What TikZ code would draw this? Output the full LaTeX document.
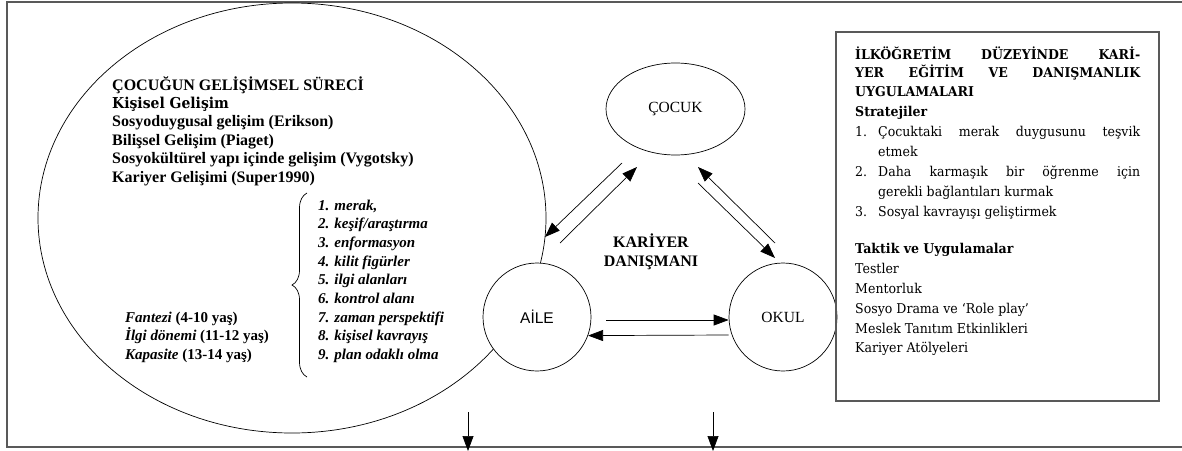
\documentclass[tikz,border=0pt]{standalone}
\usepackage{fontspec}
\setmainfont{Liberation Serif}
\newfontfamily\arialfont{Liberation Sans}
\newfontfamily\bookfont[FakeStretch=0.93]{DejaVu Serif}
\usetikzlibrary{arrows.meta,shapes.geometric,decorations.pathreplacing}

\tikzset{
  thinline/.style={line width=0.7pt},
  pairarrow/.style={thinline, -{Triangle[length=15pt,width=11pt]}},
  actor/.style={draw, thinline, circle, fill=white, minimum size=108pt, inner sep=0pt},
  framestroke/.style={draw=black!65, line width=1.3pt},
  textblock/.style={anchor=base west, inner sep=0pt},
}

\begin{document}
\begin{tikzpicture}[x=1pt,y=-1pt]
  \useasboundingbox (0,0) rectangle (1182,450);

  % Drawing outer frame (open on the right)
  \draw [framestroke] (1182,2) -- (7,2) -- (7,447) -- (1182,447);

  % Drawing development ellipse
  \node [draw, thinline, ellipse, minimum width=508pt, minimum height=430pt, inner sep=0pt] (surec) at (292,218) {};

  % Marking the three actors
  \node [draw, thinline, ellipse, minimum width=139pt, minimum height=92pt, inner sep=0pt,
         font=\fontsize{15.5}{18}\selectfont] (cocuk) at (675.5,109) {ÇOCUK};
  \node [actor, font=\arialfont\fontsize{15.5}{18}\selectfont] (aile) at (537,317) {AİLE};
  \node [actor, font=\fontsize{15.5}{18}\selectfont] (okul) at (783,317) {OKUL};

  % Marking centre label
  \node [align=center, font=\bfseries\fontsize{16}{19}\selectfont] (danisman) at (651,252) {KARİYER\\DANIŞMANI};

  % Drawing arrows cocuk <-> aile
  \coordinate (ca tail) at (622,163);
  \coordinate (ca tip) at (545,237);
  \coordinate (ac tail) at (560,243);
  \coordinate (ac tip) at (637,167);
  \draw [pairarrow] (ca tail) -- (ca tip);
  \draw [pairarrow] (ac tail) -- (ac tip);

  % Drawing arrows cocuk <-> okul
  \coordinate (co tail) at (698,183);
  \coordinate (co tip) at (775,258);
  \coordinate (oc tail) at (775,243);
  \coordinate (oc tip) at (698,167);
  \draw [pairarrow] (co tail) -- (co tip);
  \draw [pairarrow] (oc tail) -- (oc tip);

  % Drawing arrows aile <-> okul
  \draw [pairarrow] ([xshift=15pt,yshift=-3pt]aile.east) -- ([yshift=-3pt]okul.west);
  \draw [pairarrow] ([yshift=-18pt]okul.west) -- (aile.-20);

  % Drawing arrows down to the frame
  \coordinate (down a) at (468,412);
  \coordinate (down b) at (713,412);
  \draw [pairarrow] (down a) -- (down a |- 0,451);
  \draw [pairarrow] (down b) -- (down b |- 0,451);

  % Marking development texts
  \node [textblock, font=\bfseries\fontsize{16}{18.4}\selectfont] (gelisim) at (112,90) {%
    \begin{minipage}[t]{330pt}
    ÇOCUĞUN GELİŞİMSEL SÜRECİ\\
    {\bookfont\fontsize{15}{18.4}\selectfont Kişisel Gelişim}\\
    Sosyoduygusal gelişim (Erikson)\\
    Bilişsel Gelişim (Piaget)\\
    Sosyokültürel yapı içinde gelişim (Vygotsky)\\
    Kariyer Gelişimi (Super1990)
    \end{minipage}};

  \node [textblock, font=\bfseries\itshape\fontsize{15}{18.7}\selectfont] (asamalar) at (318,210) {%
    \begin{minipage}[t]{160pt}
    1. merak,\\
    2. keşif/araştırma\\
    3. enformasyon\\
    4. kilit figürler\\
    5. ilgi alanları\\
    6. kontrol alanı\\
    7. zaman perspektifi\\
    8. kişisel kavrayış\\
    9. plan odaklı olma
    \end{minipage}};

  % Drawing brace
  \draw [thinline, decorate, decoration={brace, amplitude=15pt}] (307,377) -- (307,193);

  \node [textblock, font=\bfseries\fontsize{15}{18.7}\selectfont] (donemler) at (125,322) {%
    \begin{minipage}[t]{170pt}
    \textit{Fantezi} (4-10 yaş)\\
    \textit{İlgi dönemi} (11-12 yaş)\\
    \textit{Kapasite} (13-14 yaş)
    \end{minipage}};

  % Drawing strategy box
  \node [framestroke, minimum width=323pt, minimum height=369pt, inner sep=0pt] (strateji) at (997.5,216.5) {};

  \node [textblock, font=\bookfont\fontsize{13.5}{19.8}\selectfont] (strmetin) at (855,59) {%
    \begin{minipage}[t]{285pt}
    {\bfseries İLKÖĞRETİM\hfill DÜZEYİNDE\hfill KARİ-\\[-1.3pt]
    YER\hfill EĞİTİM\hfill VE\hfill DANIŞMANLIK\\[-1.3pt]
    UYGULAMALARI\\[0.2pt]
    Stratejiler}\\[1pt]
    \makebox[23pt][l]{1.}Çocuktaki\hfill merak\hfill duygusunu\hfill teşvik\\
    \hspace*{23pt}etmek\\
    \makebox[23pt][l]{2.}Daha\hfill karmaşık\hfill bir\hfill öğrenme\hfill için\\
    \hspace*{23pt}gerekli bağlantıları kurmak\\
    \makebox[23pt][l]{3.}Sosyal kavrayışı geliştirmek\\[18pt]
    {\bfseries Taktik ve Uygulamalar}\\
    Testler\\
    Mentorluk\\
    Sosyo Drama ve ‘Role play’\\
    Meslek Tanıtım Etkinlikleri\\
    Kariyer Atölyeleri
    \end{minipage}};
\end{tikzpicture}
\end{document}
